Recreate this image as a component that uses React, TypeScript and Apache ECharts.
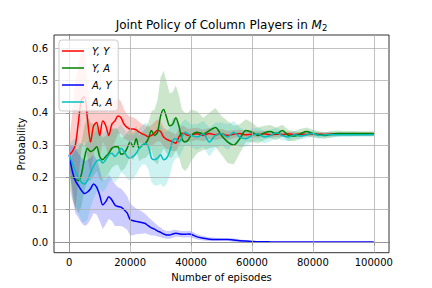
import React, { useEffect, useRef } from "react";
import * as echarts from "echarts";

const episodes = [
  0, 1000, 2000, 3000, 4000, 5000, 6000, 7000, 8000, 9000,
  10000, 11000, 12000, 13000, 14000, 15000, 16000, 17000, 18000, 19000,
  20000, 21000, 22000, 23000, 24000, 25000, 26000, 27000, 28000, 29000,
  30000, 31000, 32000, 33000, 34000, 35000, 36000, 37000, 38000, 39000,
  40000,
  42000, 44000, 46000, 48000, 50000, 52000, 54000, 56000, 58000, 60000,
  62000, 64000, 66000, 68000, 70000, 72000, 74000, 76000, 78000, 80000,
  82000, 84000, 86000, 88000, 90000, 92000, 94000, 96000, 98000, 100000,
];

const yyMean = [
  0.27, 0.28, 0.30, 0.37, 0.44, 0.45, 0.38, 0.31, 0.36, 0.37,
  0.33, 0.375, 0.36, 0.33, 0.365, 0.375, 0.39, 0.385, 0.365, 0.355,
  0.35, 0.35, 0.347, 0.34, 0.335, 0.331, 0.326, 0.33, 0.338, 0.346,
  0.342, 0.325, 0.318, 0.314, 0.31, 0.306, 0.325, 0.337, 0.335, 0.33,
  0.332,
  0.335, 0.33, 0.336, 0.332, 0.335, 0.33, 0.334, 0.336, 0.332, 0.334,
  0.333, 0.335, 0.332, 0.334, 0.333, 0.335, 0.333, 0.334, 0.333, 0.334,
  0.334, 0.333, 0.334, 0.334, 0.334, 0.334, 0.334, 0.334, 0.334, 0.334,
];
const yySpread = [
  0.04, 0.12, 0.2, 0.18, 0.15, 0.14, 0.12, 0.1, 0.085, 0.075,
  0.07, 0.065, 0.065, 0.07, 0.07, 0.065, 0.055, 0.05, 0.045, 0.04,
  0.038, 0.036, 0.034, 0.032, 0.03, 0.03, 0.03, 0.032, 0.034, 0.034,
  0.032, 0.03, 0.03, 0.028, 0.028, 0.026, 0.025, 0.024, 0.022, 0.02,
  0.02,
  0.019, 0.018, 0.017, 0.016, 0.015, 0.014, 0.013, 0.012, 0.011, 0.01,
  0.01, 0.009, 0.009, 0.008, 0.008, 0.008, 0.007, 0.007, 0.007, 0.006,
  0.006, 0.006, 0.006, 0.005, 0.005, 0.005, 0.005, 0.005, 0.005, 0.005,
];

const yaMean = [
  0.20, 0.20, 0.195, 0.19, 0.21, 0.26, 0.29, 0.28, 0.285, 0.295,
  0.265, 0.255, 0.265, 0.275, 0.29, 0.295, 0.295, 0.272, 0.275, 0.29,
  0.31, 0.295, 0.32, 0.29, 0.30, 0.305, 0.32, 0.345, 0.33, 0.34,
  0.39, 0.41, 0.385, 0.36, 0.365, 0.385, 0.36, 0.32, 0.31, 0.315,
  0.33,
  0.34, 0.335, 0.345, 0.355, 0.33, 0.31, 0.30, 0.32, 0.345, 0.34,
  0.33, 0.338, 0.342, 0.335, 0.345, 0.33, 0.328, 0.336, 0.342, 0.336,
  0.332, 0.33, 0.334, 0.336, 0.336, 0.336, 0.336, 0.336, 0.336, 0.336,
];
const yaSpread = [
  0.03, 0.07, 0.09, 0.1, 0.1, 0.1, 0.1, 0.09, 0.08, 0.075,
  0.07, 0.068, 0.065, 0.062, 0.06, 0.058, 0.055, 0.052, 0.05, 0.048,
  0.045, 0.042, 0.04, 0.04, 0.042, 0.045, 0.05, 0.06, 0.08, 0.1,
  0.12, 0.12, 0.11, 0.1, 0.1, 0.1, 0.095, 0.09, 0.09, 0.085,
  0.08,
  0.065, 0.05, 0.055, 0.06, 0.06, 0.065, 0.06, 0.045, 0.035, 0.03,
  0.025, 0.022, 0.02, 0.02, 0.018, 0.017, 0.016, 0.015, 0.013, 0.012,
  0.011, 0.01, 0.01, 0.009, 0.008, 0.008, 0.008, 0.007, 0.007, 0.007,
];

const ayMean = [
  0.27, 0.22, 0.19, 0.175, 0.16, 0.15, 0.155, 0.165, 0.18, 0.17,
  0.145, 0.115, 0.125, 0.14, 0.13, 0.115, 0.11, 0.108, 0.1, 0.09,
  0.07, 0.066, 0.064, 0.062, 0.06, 0.057, 0.05, 0.044, 0.04, 0.034,
  0.03, 0.025, 0.022, 0.022, 0.025, 0.027, 0.026, 0.024, 0.024, 0.025,
  0.024,
  0.016, 0.012, 0.009, 0.008, 0.008, 0.008, 0.006, 0.004, 0.003, 0.002,
  0.001, 0.001, 0.0005, 0, 0, 0, 0, 0, 0, 0,
  0, 0, 0, 0, 0, 0, 0, 0, 0, 0,
];
const aySpread = [
  0.03, 0.08, 0.1, 0.1, 0.1, 0.1, 0.1, 0.095, 0.09, 0.085,
  0.08, 0.075, 0.07, 0.068, 0.065, 0.065, 0.06, 0.058, 0.055, 0.052,
  0.05, 0.045, 0.04, 0.037, 0.034, 0.03, 0.027, 0.024, 0.02, 0.017,
  0.015, 0.013, 0.012, 0.012, 0.012, 0.011, 0.01, 0.01, 0.01, 0.01,
  0.01,
  0.008, 0.007, 0.006, 0.005, 0.004, 0.004, 0.006, 0.004, 0.003, 0.002,
  0.0015, 0.001, 0.001, 0.0005, 0.0005, 0.0003, 0.0003, 0.0002, 0.0002, 0.0002,
  0.0002, 0.0002, 0.0002, 0.0002, 0.0002, 0.0002, 0.0002, 0.0002, 0.0002, 0.0002,
];

const aaMean = [
  0.27, 0.245, 0.22, 0.20, 0.185, 0.18, 0.19, 0.215, 0.235, 0.25,
  0.255, 0.245, 0.255, 0.27, 0.275, 0.265, 0.275, 0.29, 0.28, 0.265,
  0.26, 0.265, 0.275, 0.29, 0.30, 0.305, 0.295, 0.26, 0.255, 0.26,
  0.27, 0.255, 0.26, 0.28, 0.315, 0.32, 0.31, 0.325, 0.34, 0.335,
  0.33,
  0.325, 0.335, 0.31, 0.33, 0.335, 0.325, 0.34, 0.325, 0.32, 0.33,
  0.335, 0.325, 0.33, 0.338, 0.33, 0.325, 0.332, 0.328, 0.332, 0.336,
  0.33, 0.332, 0.332, 0.332, 0.332, 0.332, 0.332, 0.332, 0.332, 0.332,
];
const aaSpread = [
  0.03, 0.07, 0.1, 0.11, 0.12, 0.12, 0.12, 0.11, 0.1, 0.095,
  0.09, 0.09, 0.09, 0.085, 0.08, 0.08, 0.08, 0.075, 0.07, 0.07,
  0.07, 0.068, 0.065, 0.062, 0.06, 0.065, 0.07, 0.075, 0.08, 0.085,
  0.09, 0.085, 0.08, 0.075, 0.07, 0.06, 0.05, 0.045, 0.04, 0.038,
  0.035,
  0.04, 0.04, 0.045, 0.04, 0.035, 0.04, 0.035, 0.03, 0.025, 0.02,
  0.02, 0.02, 0.018, 0.016, 0.015, 0.013, 0.012, 0.011, 0.01, 0.01,
  0.009, 0.008, 0.008, 0.007, 0.007, 0.007, 0.006, 0.006, 0.006, 0.006,
];

const seriesNames = ["Y, Y", "Y, A", "A, Y", "A, A"];
const xTicks = [0, 20000, 40000, 60000, 80000, 100000];
const yTicks = [0, 0.1, 0.2, 0.3, 0.4, 0.5, 0.6];
const titleText = "Joint Policy of Column Players in ";
const xTitle = "Number of episodes";
const yTitle = "Probability";

export default function App() {
  const ref = useRef<HTMLDivElement>(null);
  useEffect(() => {
    document.body.style.margin = "0";
    const chart = echarts.init(ref.current!, null, { renderer: "svg" });
    const font = "DejaVu Sans";
    const groups = [
      { name: seriesNames[0], color: "#ff0000", fill: "rgba(255,0,0,0.2)", mean: yyMean, spread: yySpread },
      { name: seriesNames[1], color: "#008000", fill: "rgba(0,128,0,0.2)", mean: yaMean, spread: yaSpread },
      { name: seriesNames[2], color: "#0000ff", fill: "rgba(0,0,255,0.2)", mean: ayMean, spread: aySpread },
      { name: seriesNames[3], color: "#00bfbf", fill: "rgba(0,191,191,0.2)", mean: aaMean, spread: aaSpread },
    ];
    const series: any[] = [];
    groups.forEach((g, k) => {
      const bandData = episodes.map((x, i) => [x, g.mean[i] - g.spread[i], g.mean[i] + g.spread[i]]);
      series.push({
        type: "custom",
        name: "band" + k,
        data: bandData,
        silent: true,
        z: 1,
        encode: { x: 0, y: [1, 2] },
        renderItem: (params: any, api: any) => {
          if (params.dataIndex !== 0) return null;
          const upper = bandData.map((d) => api.coord([d[0], d[2]]));
          const lower = bandData.map((d) => api.coord([d[0], d[1]])).reverse();
          return {
            type: "polygon",
            shape: { points: upper.concat(lower), smooth: 0 },
            style: { fill: g.fill, stroke: "none" },
          };
        },
      });
    });
    series.push({
      type: "line",
      name: "grid",
      data: [],
      silent: true,
      z: 2,
      markLine: {
        silent: true,
        symbol: ["none", "none"],
        label: { show: false },
        lineStyle: { color: "#b0b0b0", width: 0.8, type: "solid" },
        data: [
          ...xTicks.map((v) => ({ xAxis: v })),
          ...yTicks.map((v) => ({ yAxis: v })),
        ],
      },
    });
    groups.forEach((g) => {
      series.push({
        type: "line",
        name: g.name,
        data: episodes.map((x, i) => [x, g.mean[i]]),
        symbol: "none",
        showSymbol: false,
        color: g.color,
        itemStyle: { color: g.color },
        lineStyle: { color: g.color, width: 1.5 },
        smooth: 0.3,
        z: 3,
      });
    });

    chart.setOption({
      animation: false,
      grid: {
        left: 54,
        right: 43,
        top: 35,
        bottom: 35.3,
        show: true,
        borderColor: "#000",
        borderWidth: 0.8,
        backgroundColor: "transparent",
        outerBoundsMode: "none",
      },
      graphic: [
        {
          type: "text",
          x: 221.5,
          y: 25,
          style: {
            text: "{a|" + titleText + "}{m|M}{s|2}",
            align: "center",
            verticalAlign: "middle",
            rich: {
              a: { fontSize: 12, fontFamily: font, fill: "#000" },
              m: { fontSize: 12, fontFamily: font, fontStyle: "italic", fill: "#000" },
              s: { fontSize: 8.5, fontFamily: font, fill: "#000", padding: [6, 0, 0, 0] },
            },
          },
        },
        {
          type: "text",
          x: 21.7,
          y: 144,
          rotation: Math.PI / 2,
          style: {
            text: yTitle,
            align: "center",
            verticalAlign: "middle",
            fontFamily: font,
            fontSize: 10,
            fill: "#000",
          },
        },
      ],
      legend: {
        data: seriesNames,
        orient: "vertical",
        left: 59,
        top: 40,
        itemWidth: 22,
        itemHeight: 14,
        itemGap: 7,
        icon: "path://M0,0 H22 V1.5 H0 Z",
        padding: [6, 6, 4, 3],
        backgroundColor: "rgba(255,255,255,0.8)",
        borderColor: "#cccccc",
        borderWidth: 1,
        borderRadius: 3,
        z: 10,
        textStyle: {
          fontFamily: font,
          fontStyle: "italic",
          fontSize: 10,
          color: "#000",
          padding: [0, 0, 0, 3],
        },
      },
      xAxis: {
        type: "value",
        min: -5000,
        max: 105000,
        name: xTitle,
        nameLocation: "middle",
        nameGap: 18,
        nameTextStyle: { fontFamily: font, fontSize: 10, color: "#000" },
        axisLine: { show: true, lineStyle: { color: "#000", width: 0.8 } },
        axisTick: {
          show: true,
          length: 3.5,
          lineStyle: { color: "#000", width: 0.8 },
          customValues: xTicks,
        },
        axisLabel: {
          fontFamily: font,
          fontSize: 10,
          color: "#000",
          margin: 5,
          customValues: xTicks,
          formatter: (v: number) => String(v),
        },
        splitLine: { show: false },
      },
      yAxis: {
        type: "value",
        min: -0.033,
        max: 0.641,
        axisLine: { show: true, lineStyle: { color: "#000", width: 0.8 } },
        axisTick: {
          show: true,
          length: 3.5,
          lineStyle: { color: "#000", width: 0.8 },
          customValues: yTicks,
        },
        axisLabel: {
          fontFamily: font,
          fontSize: 10,
          color: "#000",
          margin: 6,
          customValues: yTicks,
          formatter: (v: number) => v.toFixed(1),
        },
        splitLine: { show: false },
      },
      series,
    });
    return () => chart.dispose();
  }, []);
  return (
    <div
      ref={ref}
      style={{ position: "absolute", left: 0, top: 0, width: 432, height: 288, background: "#fff" }}
    />
  );
}
